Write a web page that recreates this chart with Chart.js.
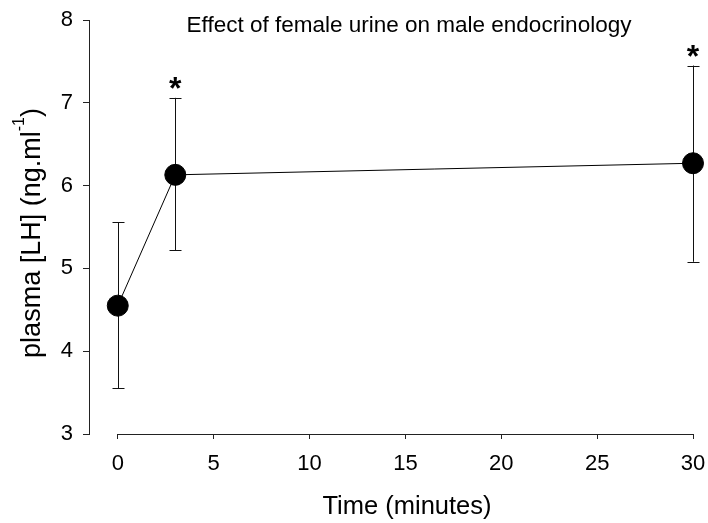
<!DOCTYPE html>
<html>
<head>
<meta charset="utf-8">
<script src="https://cdn.jsdelivr.net/npm/chart.js@4/dist/chart.umd.min.js"></script>
<style>
html,body{margin:0;padding:0;background:#fff;}
#wrap{width:708px;height:523px;}
</style>
</head>
<body>
<div id="wrap"><canvas id="c" width="708" height="523"></canvas></div>
<script>
// ---- data ----
const timePoints = [0, 3, 30];
const meanLH = [4.55, 6.13, 6.27];
const errUpper = [5.56, 7.06, 7.45];
const errLower = [3.55, 5.22, 5.08];
const significant = [false, true, true];
const xTicks = [0, 5, 10, 15, 20, 25, 30];
const yTicks = [3, 4, 5, 6, 7, 8];
const chartTitle = 'Effect of female urine on male endocrinology';
const xTitle = 'Time (minutes)';
const yTitleMain = 'plasma [LH] (ng.ml';
const yTitleSup = '-1';
const yTitleEnd = ')';

const FONT = "'Liberation Sans', Arial, Helvetica, sans-serif";
Chart.defaults.font.family = FONT;
Chart.defaults.font.size = 22;
Chart.defaults.color = '#000';

const AXIS = '#222';

const extras = {
  id: 'extras',
  beforeDatasetsDraw(chart) {
    const ctx = chart.ctx, xs = chart.scales.x, ys = chart.scales.y;
    ctx.save();
    ctx.strokeStyle = '#111';
    ctx.lineWidth = 1;
    timePoints.forEach((t, i) => {
      const px = Math.round(xs.getPixelForValue(t)) + 0.5;
      const top = ys.getPixelForValue(errUpper[i]);
      const bot = ys.getPixelForValue(errLower[i]);
      ctx.beginPath();
      ctx.moveTo(px, top); ctx.lineTo(px, bot);
      ctx.moveTo(px - 6, Math.round(top) + 0.5); ctx.lineTo(px + 6, Math.round(top) + 0.5);
      ctx.moveTo(px - 6, Math.round(bot) + 0.5); ctx.lineTo(px + 6, Math.round(bot) + 0.5);
      ctx.stroke();
    });
    ctx.restore();
  },
  afterDraw(chart) {
    const ctx = chart.ctx, xs = chart.scales.x, ys = chart.scales.y;
    ctx.save();
    // x axis line between first and last tick
    ctx.strokeStyle = AXIS;
    ctx.lineWidth = 1;
    const yA = Math.round(xs.top) + 0.5;
    ctx.beginPath();
    ctx.moveTo(xs.getPixelForValue(xTicks[0]), yA);
    ctx.lineTo(xs.getPixelForValue(xTicks[xTicks.length - 1]) + 1, yA);
    ctx.stroke();

    ctx.fillStyle = '#000';
    ctx.textAlign = 'center';
    ctx.textBaseline = 'alphabetic';
    // chart title
    ctx.font = '22.5px ' + FONT;
    ctx.fillText(chartTitle, 409, 32);
    // x title
    ctx.font = '25.5px ' + FONT;
    ctx.fillText(xTitle, 407, 514);
    // y title with superscript
    ctx.save();
    ctx.translate(40, 233);
    ctx.rotate(-Math.PI / 2);
    const big = '27px ' + FONT, small = '16px ' + FONT;
    ctx.font = big;
    const w1 = ctx.measureText(yTitleMain).width;
    const w3 = ctx.measureText(yTitleEnd).width;
    ctx.font = small;
    const w2 = ctx.measureText(yTitleSup).width;
    const total = w1 + w2 + w3;
    const x0 = -total / 2;
    ctx.textAlign = 'left';
    ctx.font = big;
    ctx.fillText(yTitleMain, x0, 0);
    ctx.font = small;
    ctx.fillText(yTitleSup, x0 + w1, -16);
    ctx.font = big;
    ctx.fillText(yTitleEnd, x0 + w1 + w2, 0);
    ctx.restore();

    // asterisks
    ctx.font = 'bold 32px ' + FONT;
    ctx.textAlign = 'center';
    ctx.textBaseline = 'alphabetic';
    timePoints.forEach((t, i) => {
      if (!significant[i]) return;
      const px = xs.getPixelForValue(t);
      const top = ys.getPixelForValue(errUpper[i]);
      const m = ctx.measureText('*');
      const a = m.actualBoundingBoxAscent, d = m.actualBoundingBoxDescent;
      const cy = top - 15;
      ctx.fillText('*', px, cy + (a - d) / 2);
    });
    ctx.restore();
  }
};

new Chart(document.getElementById('c'), {
  type: 'scatter',
  data: {
    datasets: [{
      data: timePoints.map((t, i) => ({ x: t, y: meanLH[i] })),
      showLine: true,
      borderColor: '#000',
      borderWidth: 1,
      backgroundColor: '#000',
      pointBackgroundColor: '#000',
      pointBorderColor: '#000',
      pointRadius: 10.5,
      pointHoverRadius: 10.5,
      clip: false
    }]
  },
  options: {
    responsive: false,
    animation: false,
    events: [],
    layout: { padding: { top: 20, right: 15, left: 0, bottom: 0 } },
    plugins: { legend: { display: false }, tooltip: { enabled: false }, title: { display: false } },
    scales: {
      x: {
        type: 'linear',
        min: -1.5,
        max: 30,
        afterBuildTicks: (s) => { s.ticks = xTicks.map(v => ({ value: v })); },
        afterFit: (s) => { s.height = 89; s.paddingLeft = 0; s.paddingRight = 0; },
        border: { display: false },
        grid: { display: true, drawOnChartArea: false, drawTicks: true, tickLength: 5, color: AXIS },
        ticks: { padding: 12, maxRotation: 0, autoSkip: false, font: { size: 22 }, color: '#000' }
      },
      y: {
        type: 'linear',
        min: 3,
        max: 8,
        afterBuildTicks: (s) => { s.ticks = yTicks.map(v => ({ value: v })); },
        afterFit: (s) => { s.width = 89; s.paddingTop = 0; s.paddingBottom = 0; },
        border: { display: true, color: AXIS, width: 1 },
        grid: { display: true, drawOnChartArea: false, drawTicks: true, tickLength: 6, color: AXIS },
        ticks: { padding: 10, font: { size: 22 }, color: '#000' }
      }
    }
  },
  plugins: [extras]
});
</script>
</body>
</html>
